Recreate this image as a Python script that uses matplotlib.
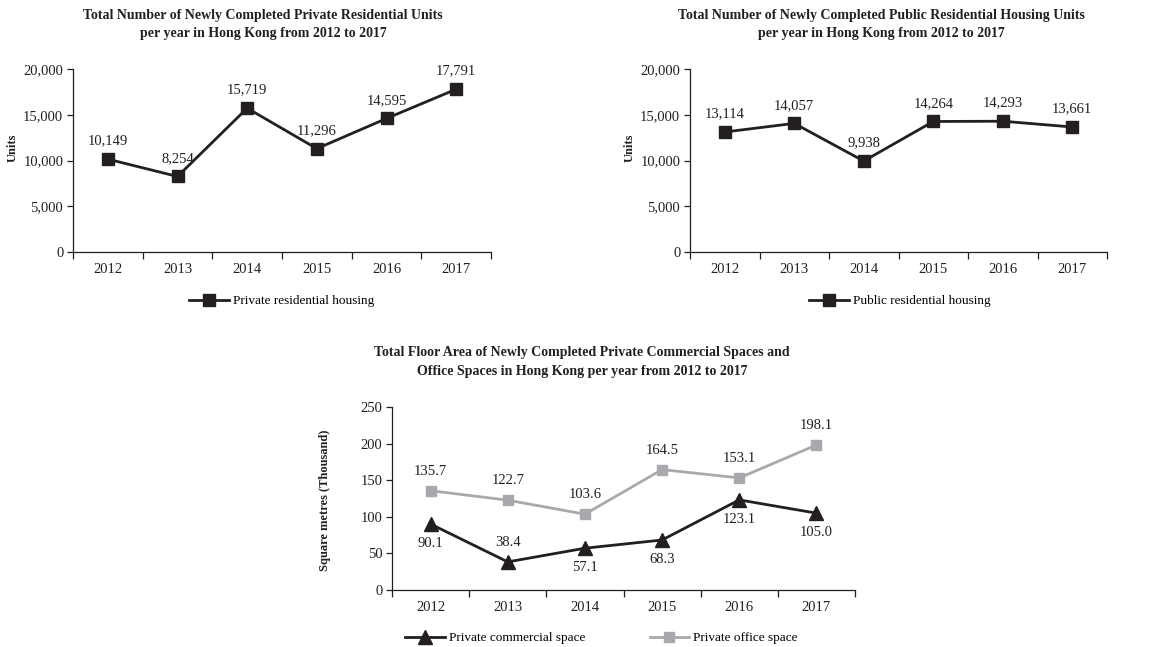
import numpy as np
import matplotlib
matplotlib.use("Agg")
import matplotlib.pyplot as plt
from matplotlib.ticker import FuncFormatter, FixedLocator

plt.rcParams["font.family"] = ["Liberation Serif", "DejaVu Serif"]

years = ["2012", "2013", "2014", "2015", "2016", "2017"]
private_units = [10149, 8254, 15719, 11296, 14595, 17791]
public_units = [13114, 14057, 9938, 14264, 14293, 13661]
commercial_space = [90.1, 38.4, 57.1, 68.3, 123.1, 105.0]
office_space = [135.7, 122.7, 103.6, 164.5, 153.1, 198.1]
# label above (+1) or below (-1) each point
commercial_side = [-1, 1, -1, -1, -1, -1]

DARK = "#231f20"
GREY = "#a7a9ac"
W, H = 1161, 647

fig = plt.figure(figsize=(W / 100, H / 100), dpi=100)


def px_axes(x0, y0, x1, y1):
    return fig.add_axes([x0 / W, 1 - y1 / H, (x1 - x0) / W, (y1 - y0) / H])


def style_axes(ax, ymax, ystep, fmt):
    x = np.arange(len(years))
    ax.set_xlim(-0.5, len(years) - 0.5)
    ax.set_ylim(0, ymax)
    ax.spines["top"].set_visible(False)
    ax.spines["right"].set_visible(False)
    for s in ("left", "bottom"):
        ax.spines[s].set_color(DARK)
        ax.spines[s].set_linewidth(0.9)
    ax.xaxis.set_major_locator(FixedLocator(np.arange(-0.5, len(years), 1.0)))
    ax.xaxis.set_minor_locator(FixedLocator(x))
    ax.set_xticklabels([], minor=False)
    ax.set_xticklabels(years, minor=True)
    ax.tick_params(axis="x", which="major", length=5, width=0.9, color=DARK, direction="out")
    ax.tick_params(axis="x", which="minor", length=0, pad=8, labelsize=10.5, labelcolor=DARK)
    ax.set_yticks(np.arange(0, ymax + 1, ystep))
    ax.yaxis.set_major_formatter(FuncFormatter(fmt))
    ax.tick_params(axis="y", length=4, width=0.9, color=DARK, direction="out",
                   labelsize=10.5, labelcolor=DARK, pad=3)
    ax.patch.set_visible(False)
    return x


def label_points(ax, x, vals, texts, sides, off=13):
    for xi, v, t, s in zip(x, vals, texts, sides):
        ax.annotate(t, (xi, v), xytext=(0, off * s), textcoords="offset points",
                    ha="center", va="center", fontsize=10.5, color=DARK)


comma = lambda v, p: f"{int(v):,}"

# Private residential units
ax1 = px_axes(73, 69, 491, 252)
x = style_axes(ax1, 20000, 5000, comma)
ax1.plot(x, private_units, color=DARK, lw=2.0, marker="s", ms=8.5,
         label="Private residential housing")
label_points(ax1, x, private_units, [f"{v:,}" for v in private_units], [1] * 6)

# Public residential units
ax2 = px_axes(690, 69, 1107, 252)
x = style_axes(ax2, 20000, 5000, comma)
ax2.plot(x, public_units, color=DARK, lw=2.0, marker="s", ms=8.5,
         label="Public residential housing")
label_points(ax2, x, public_units, [f"{v:,}" for v in public_units], [1] * 6)

# Commercial and office floor area
ax3 = px_axes(392, 407, 855, 590)
x = style_axes(ax3, 250, 50, lambda v, p: f"{int(v)}")
ax3.plot(x, office_space, color=GREY, lw=2.0, marker="s", ms=7.5,
         label="Private office space")
ax3.plot(x, commercial_space, color=DARK, lw=2.0, marker="^", ms=10,
         label="Private commercial space")
label_points(ax3, x, office_space, [f"{v:.1f}" for v in office_space], [1] * 6, off=14)
label_points(ax3, x, commercial_space, [f"{v:.1f}" for v in commercial_space],
             commercial_side, off=14)

# titles
title_kw = dict(ha="center", va="center", fontsize=10, fontweight="bold", color=DARK)
fig.text(263 / W, 1 - 24 / H,
         "Total Number of Newly Completed Private Residential Units\n"
         "per year in Hong Kong from 2012 to 2017", linespacing=1.5, **title_kw)
fig.text(881 / W, 1 - 24 / H,
         "Total Number of Newly Completed Public Residential Housing Units\n"
         "per year in Hong Kong from 2012 to 2017", linespacing=1.5, **title_kw)
fig.text(582 / W, 1 - 362 / H,
         "Total Floor Area of Newly Completed Private Commercial Spaces and\n"
         "Office Spaces in Hong Kong per year from 2012 to 2017", linespacing=1.65, **title_kw)

# y-axis labels
ylab_kw = dict(ha="center", va="center", rotation=90, fontsize=9,
               fontweight="bold", color=DARK)
fig.text(13 / W, 1 - 148 / H, "Units", **ylab_kw)
fig.text(630 / W, 1 - 148 / H, "Units", **ylab_kw)
fig.text(325 / W, 1 - 500 / H, "Square metres (Thousand)", **ylab_kw)

# legends
leg_kw = dict(loc="center left", frameon=False, fontsize=9.5, handlelength=3.0,
              handletextpad=0.3, borderpad=0, borderaxespad=0)
ax1.legend(bbox_to_anchor=(189 / W, 1 - 301 / H), bbox_transform=fig.transFigure, **leg_kw)
ax2.legend(bbox_to_anchor=(809 / W, 1 - 301 / H), bbox_transform=fig.transFigure, **leg_kw)
h, l = ax3.get_legend_handles_labels()
ax3.legend(h[::-1], l[::-1], ncol=2, columnspacing=4.9,
           bbox_to_anchor=(405 / W, 1 - 638 / H), bbox_transform=fig.transFigure, **leg_kw)

fig.savefig("out.png", dpi=100, facecolor="white")
